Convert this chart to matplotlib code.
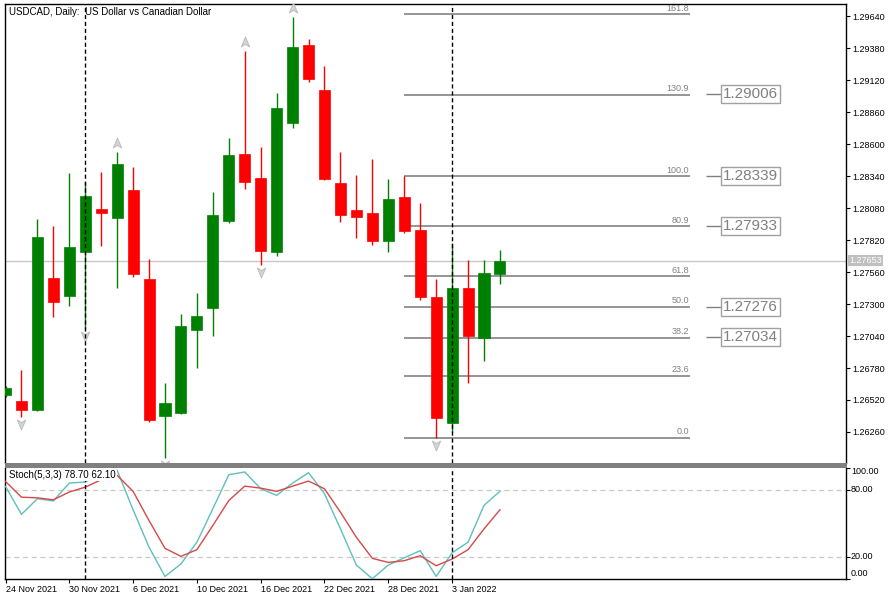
import matplotlib
matplotlib.use('Agg')
import matplotlib.pyplot as plt
import numpy as np
from matplotlib.path import Path
from matplotlib.patches import Rectangle
from matplotlib.transforms import offset_copy, blended_transform_factory

plt.rcParams['font.family'] = ['Liberation Sans', 'DejaVu Sans']

# ---------------- data ----------------
dates = ["24 Nov 2021", "25 Nov 2021", "26 Nov 2021", "29 Nov 2021", "30 Nov 2021",
         "1 Dec 2021", "2 Dec 2021", "3 Dec 2021", "6 Dec 2021", "7 Dec 2021",
         "8 Dec 2021", "9 Dec 2021", "10 Dec 2021", "13 Dec 2021", "14 Dec 2021",
         "15 Dec 2021", "16 Dec 2021", "17 Dec 2021", "20 Dec 2021", "21 Dec 2021",
         "22 Dec 2021", "23 Dec 2021", "24 Dec 2021", "27 Dec 2021", "28 Dec 2021",
         "29 Dec 2021", "30 Dec 2021", "31 Dec 2021", "3 Jan 2022", "4 Jan 2022",
         "5 Jan 2022", "6 Jan 2022"]
opens = [1.26561, 1.26509, 1.26436, 1.27511, 1.27367, 1.27725, 1.28072, 1.27999,
         1.28224, 1.27503, 1.26388, 1.26412, 1.27091, 1.27270, 1.27977, 1.28516,
         1.28321, 1.27723, 1.28768, 1.29407, 1.29041, 1.28281, 1.28064, 1.28037,
         1.27814, 1.28167, 1.27899, 1.27357, 1.26331, 1.27430, 1.27024, 1.27546]
highs = [1.26634, 1.26764, 1.27988, 1.27934, 1.28362, 1.28294, 1.28372, 1.28537,
         1.28416, 1.27663, 1.26661, 1.27219, 1.27387, 1.28208, 1.28646, 1.29358,
         1.28573, 1.29017, 1.29634, 1.29453, 1.29236, 1.28533, 1.28348, 1.28476,
         1.28313, 1.28339, 1.28118, 1.27503, 1.27793, 1.27658, 1.27658, 1.27739]
lows = [1.26544, 1.26384, 1.26431, 1.27192, 1.27286, 1.27094, 1.27774, 1.27428,
        1.27522, 1.26339, 1.26051, 1.26406, 1.26778, 1.27042, 1.27961, 1.28234,
        1.27617, 1.27690, 1.28728, 1.29106, 1.28308, 1.27966, 1.27836, 1.27779,
        1.27725, 1.27874, 1.27333, 1.26213, 1.26262, 1.26656, 1.26839, 1.27462]
closes = [1.26618, 1.26436, 1.27842, 1.27319, 1.27761, 1.28175, 1.28039, 1.28435,
          1.27546, 1.26355, 1.26498, 1.27121, 1.27203, 1.28021, 1.28508, 1.28289,
          1.27733, 1.28895, 1.29388, 1.29131, 1.28316, 1.28023, 1.28007, 1.27814,
          1.28151, 1.27896, 1.27359, 1.26371, 1.27430, 1.27042, 1.27552, 1.27653]

stoch_k = [83, 58, 72, 70, 86, 87, 94, 97.5, 62, 28.5, 2.3, 13.5, 33, 63, 93.5, 96,
           81, 75, 86, 95.3, 76.5, 45, 12.5, 0.2, 12.5, 19, 25.4, 2.3, 23.5, 33, 66, 78.7]
stoch_d = [87.5, 73.4, 72.8, 71, 78, 82.4, 89, 93, 78.6, 52.4, 27.5, 20.3, 26.3, 48,
           70.4, 83.3, 81.5, 78.6, 83.3, 87.8, 80.9, 59.9, 37.4, 18.5, 14.9, 16.4,
           20.9, 11.9, 17.9, 26.3, 44.9, 62.1]
stoch_label = "Stoch(5,3,3) 78.70 62.10"

fib_labels = ["0.0", "23.6", "38.2", "50.0", "61.8", "80.9", "100.0", "130.9", "161.8"]
fib_levels = [1.26213, 1.26715, 1.27025, 1.27276, 1.27527, 1.27933, 1.28339, 1.29000, 1.29653]
fib_start_bar = 25

box_prices = [1.29006, 1.28339, 1.27933, 1.27276, 1.27034]
box_texts = ["1.29006", "1.28339", "1.27933", "1.27276", "1.27034"]

price_ticks = [1.29640, 1.29380, 1.29120, 1.28860, 1.28600, 1.28340, 1.28080,
               1.27820, 1.27560, 1.27300, 1.27040, 1.26780, 1.26520, 1.26260]
stoch_levels = [80, 20]
stoch_tick_vals = [100, 80, 20, 0]
stoch_tick_text = ["100.00", "80.00", "20.00", "0.00"]

date_tick_idx = [0, 4, 8, 12, 16, 20, 24, 28]
separator_idx = [5, 28]
fractal_up = [7, 15, 18]
fractal_down = [1, 5, 10, 16, 27]
current_price = 1.27653
title = "USDCAD, Daily:  US Dollar vs Canadian Dollar"

# ---------------- layout ----------------
W, H = 891, 602
fig = plt.figure(figsize=(W / 100, H / 100), dpi=100)
fig.patch.set_facecolor('white')


def frac(x0, y0, x1, y1):
    return [x0 / W, 1 - y1 / H, (x1 - x0) / W, (y1 - y0) / H]


ax = fig.add_axes(frac(5, 4, 846, 463))
ax2 = fig.add_axes(frac(5, 467.5, 846, 579), sharex=ax)

fig.patches.append(Rectangle((5 / W, 1 - 467.5 / H), (847 - 5) / W, 4.5 / H,
                             transform=fig.transFigure, facecolor='#808080',
                             edgecolor='none', zorder=10))

n = len(opens)
x = np.arange(n)
GREEN = '#008000'
RED = '#ff0000'

for i in range(n):
    col = GREEN if closes[i] >= opens[i] else RED
    ax.vlines(x[i], lows[i], highs[i], color=col, lw=1.0, zorder=2)
    lo, hi = min(opens[i], closes[i]), max(opens[i], closes[i])
    ax.bar(x[i], hi - lo, bottom=lo, width=0.69, color=col, edgecolor=col,
           lw=0.5, zorder=3)

# current price line
ax.axhline(current_price, color='#c8c8c8', lw=1.0, zorder=1)

# fibonacci levels
fib_end = 42.9
for lvl, lab in zip(fib_levels, fib_labels):
    ax.hlines(lvl, fib_start_bar, fib_end, color='#8c8c8c', lw=1.3, zorder=1)
    t = ax.text(fib_end - 0.05, lvl, lab, ha='right', va='bottom', fontsize=6.5,
                color='#808080', clip_on=True,
                transform=offset_copy(ax.transData, fig, y=1.5, units='dots'))

# price boxes
for p, s in zip(box_prices, box_texts):
    ax.hlines(p, 43.9, 44.95, color='#808080', lw=1.0)
    ax.text(46.7, p, s, ha='center', va='center', fontsize=11, color='#808080',
            bbox=dict(boxstyle='square,pad=0.12', fc='white', ec='#a0a0a0', lw=1.0),
            zorder=5)

# fractal arrows
up_path = Path([(0, 1), (0.75, -0.8), (0, -0.35), (-0.75, -0.8), (0, 1)],
               [Path.MOVETO, Path.LINETO, Path.LINETO, Path.LINETO, Path.CLOSEPOLY])
down_path = Path([(0, -1), (0.75, 0.8), (0, 0.35), (-0.75, 0.8), (0, -1)],
                 [Path.MOVETO, Path.LINETO, Path.LINETO, Path.LINETO, Path.CLOSEPOLY])
up_tr = offset_copy(ax.transData, fig, y=9, units='dots')
dn_tr = offset_copy(ax.transData, fig, y=-7, units='dots')
ax.plot([x[i] for i in fractal_up], [highs[i] for i in fractal_up], ls='none',
        marker=up_path, ms=8, mfc='#d4d4d4', mec='#b8b8b8', mew=0.6,
        transform=up_tr, zorder=4)
ax.plot([x[i] for i in fractal_down], [lows[i] for i in fractal_down], ls='none',
        marker=down_path, ms=8, mfc='#d4d4d4', mec='#b8b8b8', mew=0.6,
        transform=dn_tr, zorder=4)

# separators
for s in separator_idx:
    ax.axvline(x[s], color='black', lw=1.0, ls=(0, (3, 2)), zorder=6)
    ax2.axvline(x[s], color='black', lw=1.0, ls=(0, (3, 2)), zorder=6)

px = 15.95
ax.set_xlim(-0.5 / px, 840.5 / px)
ax.set_ylim(1.26008, 1.29738)

# main axis styling
for sp in ['left', 'top', 'right']:
    ax.spines[sp].set_color('black')
    ax.spines[sp].set_linewidth(1.0)
ax.spines['bottom'].set_visible(False)
ax.yaxis.tick_right()
ax.set_yticks(price_ticks)
ax.set_yticklabels([f"{v:.5f}" for v in price_ticks])
ax.tick_params(axis='y', direction='out', length=3, width=0.8, pad=1.5,
               labelsize=6.5, colors='black')
ax.tick_params(axis='x', bottom=False, labelbottom=False)

ax.text((9 - 5) / 841, (463 - 12) / 459, title, transform=ax.transAxes,
        ha='left', va='center', fontsize=7, color='black', zorder=7)

# current price tag
bt = blended_transform_factory(ax.transAxes, ax.transData)
ax.text(1.0 + 3.5 / 841, current_price, "1.27653", transform=bt, ha='left',
        va='center', fontsize=6.5, color='white', clip_on=False, zorder=8,
        bbox=dict(boxstyle='square,pad=0.15', fc='#c0c0c0', ec='none'))

# ---------------- stochastic ----------------
ax2.plot(x, stoch_k, color='#5fbfbf', lw=1.0, zorder=3)
ax2.plot(x, stoch_d, color='#d84848', lw=1.0, zorder=3)
for lv in stoch_levels:
    ax2.axhline(lv, color='#c8c8c8', lw=0.9, ls=(0, (4, 3)), zorder=1)
ax2.set_ylim(0, 100)
for sp in ['left', 'bottom', 'right']:
    ax2.spines[sp].set_color('black')
    ax2.spines[sp].set_linewidth(1.0)
ax2.spines['top'].set_visible(False)
ax2.yaxis.tick_right()
ax2.set_yticks(stoch_tick_vals)
ax2.set_yticklabels([])
ax2.tick_params(axis='y', direction='out', length=3, width=0.8)
lab_y_px = [472, 489.7, 556.3, 573.3]
for ypx, s in zip(lab_y_px, stoch_tick_text):
    ax2.text(1.0 + 5 / 841, (579 - ypx) / 111.5, s, transform=ax2.transAxes,
             ha='left', va='center', fontsize=6.5, color='black', clip_on=False)

ax2.text((9 - 5) / 841, (579 - 475) / 111.5, stoch_label, transform=ax2.transAxes,
         ha='left', va='center', fontsize=7, color='black', zorder=7,
         bbox=dict(boxstyle='square,pad=0.1', fc='white', ec='none'))

ax2.set_xticks(date_tick_idx)
ax2.set_xticklabels([dates[i] for i in date_tick_idx], ha='left')
ax2.tick_params(axis='x', direction='out', length=3, width=0.8, pad=1,
                labelsize=6.5, colors='black')

fig.savefig('out.png', dpi=100, facecolor='white')
